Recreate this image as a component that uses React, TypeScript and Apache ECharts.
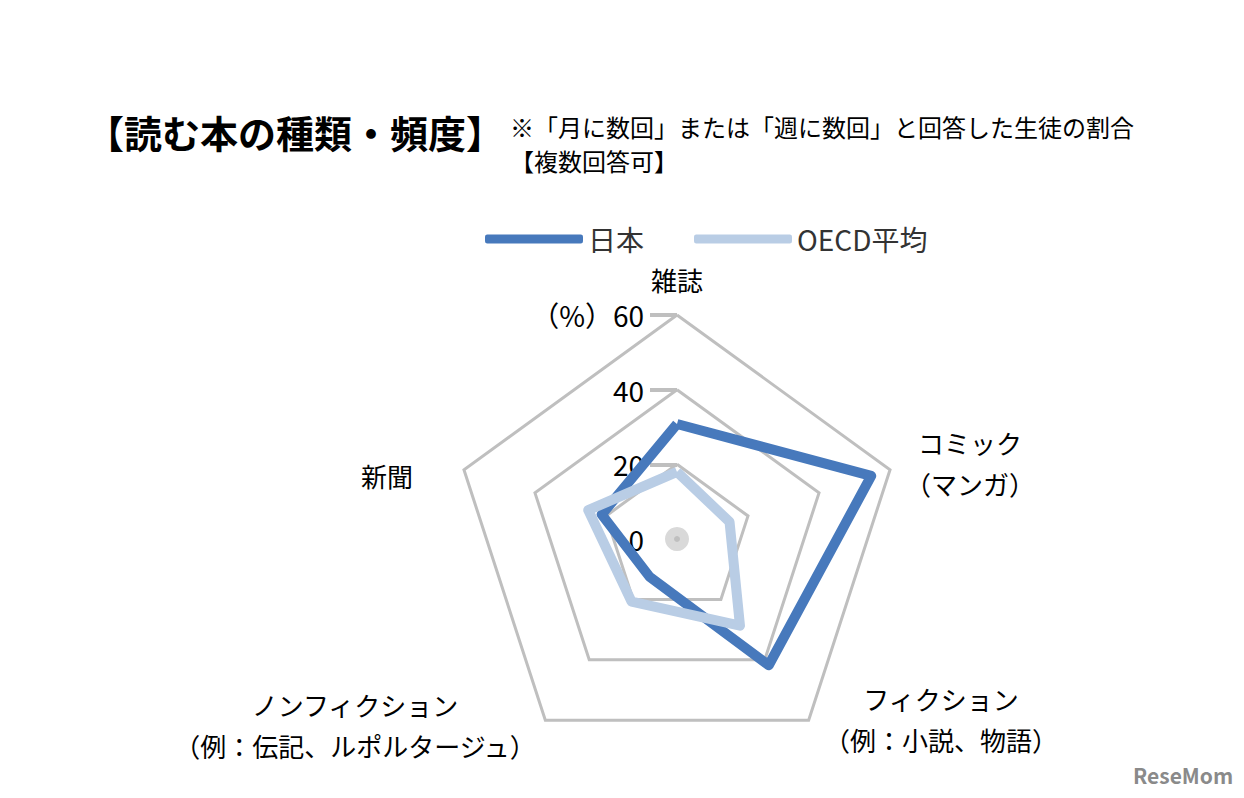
import React, { useEffect, useRef } from "react";
import * as echarts from "echarts";

const categories = ["雑誌", "コミック\n（マンガ）", "フィクション\n（例：小説、物語）", "ノンフィクション\n（例：伝記、ルポルタージュ）", "新聞"];
const japan = [30.8, 54.7, 41.8, 12.5, 21.2];
const oecd = [18.0, 14.8, 28.7, 20.7, 25.0];
const seriesNames = ["日本", "OECD平均"];
const tickValues = [20, 40, 60];

const FONT = "'Noto Sans CJK JP', 'Noto Sans', sans-serif";
const CX = 677;
const CY = 539;
const R = 224;

// label anchors (text only)
const labelPos = [
  [677, 279],
  [970, 463],
  [941, 719],
  [355, 725],
  [387, 475],
];

// ECharts radar runs counter-clockwise; reorder to draw clockwise
const order = [0, 4, 3, 2, 1];
const reorder = (arr: number[]) => order.map((i) => arr[i]);

export default function App() {
  const ref = useRef<HTMLDivElement>(null);
  useEffect(() => {
    if (!ref.current) return;
    const chart = echarts.init(ref.current, undefined, { renderer: "svg" });
    const labelGraphics = categories.map((c, i) => ({
      type: "text",
      x: labelPos[i][0],
      y: labelPos[i][1],
      style: {
        text: c,
        font: `26px ${FONT}`,
        fill: "#000",
        align: "center",
        verticalAlign: "middle",
        lineHeight: 41,
      },
    }));
    chart.setOption({
      animation: false,
      backgroundColor: "#fff",
      legend: {
        data: seriesNames,
        left: 480,
        top: 220,
        icon: "roundRect",
        itemWidth: 98,
        itemHeight: 9,
        itemGap: 50,
        textStyle: { fontSize: 28, color: "#333", fontFamily: FONT },
      },
      radar: {
        center: [CX, CY],
        radius: R,
        shape: "polygon",
        startAngle: 90,
        splitNumber: 3,
        indicator: order.map((i) => ({ name: categories[i], min: 0, max: 60 })),
        axisName: { show: false },
        axisLine: { show: false },
        axisTick: { show: false },
        axisLabel: { show: false },
        splitArea: { show: false },
        splitLine: { lineStyle: { color: "#bfbfbf", width: 3 } },
      },
      grid: { left: CX, top: CY - R, height: R, width: 2, containLabel: false },
      xAxis: { type: "value", show: false },
      yAxis: {
        type: "value",
        min: 0,
        max: 60,
        interval: 20,
        axisLine: { show: false },
        splitLine: { show: false },
        axisTick: { show: true, length: 27, customValues: tickValues, lineStyle: { color: "#bfbfbf", width: 4 } },
        axisLabel: {
          margin: 33,
          fontSize: 28,
          color: "#000",
          fontFamily: FONT,
          formatter: (v: number) => (v === 60 ? "（%）60" : String(v)),
        },
      },
      series: [
        {
          type: "radar",
          name: seriesNames[0],
          symbol: "none",
          color: "#4779BC",
          lineStyle: { width: 10, color: "#4779BC" },
          data: [{ value: reorder(japan), name: seriesNames[0] }],
          z: 2,
        },
        {
          type: "radar",
          name: seriesNames[1],
          symbol: "none",
          color: "#B9CDE5",
          lineStyle: { width: 10, color: "#B9CDE5" },
          data: [{ value: reorder(oecd), name: seriesNames[1] }],
          z: 3,
        },
      ],
      graphic: [
        {
          type: "circle",
          shape: { cx: CX, cy: CY, r: 12 },
          style: { fill: "#d9d9d9" },
          z: 1,
        },
        {
          type: "circle",
          shape: { cx: CX, cy: CY, r: 3 },
          style: { fill: "#bfbfbf" },
          z: 1,
        },
        {
          type: "text",
          x: 86,
          y: 131,
          style: {
            text: "【読む本の種類・頻度】",
            font: `bold 38px ${FONT}`,
            fill: "#000",
            verticalAlign: "middle",
          },
        },
        {
          type: "text",
          x: 510,
          y: 126,
          style: {
            text: "※「月に数回」または「週に数回」と回答した生徒の割合",
            font: `24px ${FONT}`,
            fill: "#000",
            verticalAlign: "middle",
          },
        },
        {
          type: "text",
          x: 510,
          y: 160,
          style: {
            text: "【複数回答可】",
            font: `24px ${FONT}`,
            fill: "#000",
            verticalAlign: "middle",
          },
        },
        {
          type: "text",
          x: 1133,
          y: 775,
          style: {
            text: "ReseMom",
            font: `bold 21px ${FONT}`,
            fill: "#8a8a8a",
            verticalAlign: "middle",
          },
        },
        ...labelGraphics,
      ],
    });
    return () => chart.dispose();
  }, []);
  return (
    <div
      ref={ref}
      style={{ position: "fixed", left: 0, top: 0, width: 1244, height: 798, background: "#fff" }}
    />
  );
}
